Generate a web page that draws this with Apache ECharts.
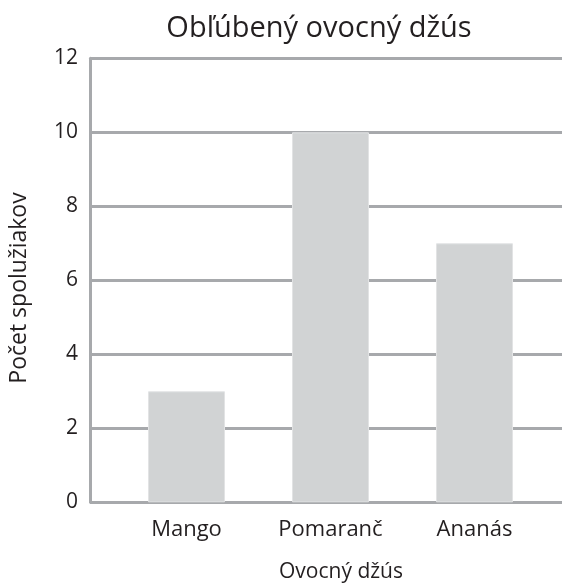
<!DOCTYPE html>
<html>
<head>
<meta charset="utf-8">
<script src="https://cdn.jsdelivr.net/npm/echarts@6/dist/echarts.min.js"></script>
<style>
  html, body { margin: 0; padding: 0; background: #fff; }
  #chart { width: 564px; height: 588px; }
</style>
</head>
<body>
<div id="chart"></div>
<script>
// Obľúbený ovocný džús — počet spolužiakov podľa druhu džúsu
const categories = ['Mango', 'Pomaranč', 'Ananás'];
const counts = [3, 10, 7];
const yTicks = { min: 0, max: 12, step: 2 };

const FONT = '"Open Sans", "Noto Sans", sans-serif';
const TEXT = '#231f20';
const GRIDLINE = '#a7a9ac';
const BAR = '#d1d3d4';

const chart = echarts.init(document.getElementById('chart'), null, { renderer: 'canvas' });

chart.setOption({
  animation: false,
  backgroundColor: '#ffffff',
  graphic: [
    {
      type: 'text', x: 319, y: 29,
      style: {
        text: 'Obľúbený ovocný džús', font: '29px ' + FONT, fill: TEXT,
        align: 'center', verticalAlign: 'middle'
      }
    },
    {
      type: 'text', x: 341, y: 572,
      style: {
        text: 'Ovocný džús', font: '21px ' + FONT, fill: TEXT,
        align: 'center', verticalAlign: 'middle'
      }
    },
    {
      type: 'text', x: 19, y: 288, rotation: Math.PI / 2,
      style: {
        text: 'Počet spolužiakov', font: '23px ' + FONT, fill: TEXT,
        align: 'center', verticalAlign: 'middle'
      }
    }
  ],
  grid: [
    // frame with the value scale and the horizontal lines
    { left: 90, right: 2, top: 58.3, bottom: 85.7, outerBoundsMode: 'none' },
    // inner band where the categories sit
    { left: 114.5, width: 432, top: 58.3, bottom: 85.7, outerBoundsMode: 'none' }
  ],
  xAxis: [
    { type: 'value', gridIndex: 0, show: false, min: 0, max: 1 },
    {
      type: 'category', gridIndex: 1, data: categories,
      axisLine: { show: false }, axisTick: { show: false },
      axisLabel: { fontFamily: FONT, fontSize: 22, color: TEXT, margin: 16 }
    }
  ],
  yAxis: [
    {
      type: 'value', gridIndex: 0,
      min: yTicks.min, max: yTicks.max, interval: yTicks.step,
      axisLine: { show: true, lineStyle: { color: GRIDLINE, width: 3 } },
      axisTick: { show: false },
      splitLine: { show: true, lineStyle: { color: GRIDLINE, width: 3 } },
      axisLabel: { fontFamily: FONT, fontSize: 21, color: TEXT, margin: 12 }
    },
    {
      type: 'value', gridIndex: 1, show: false,
      min: yTicks.min, max: yTicks.max, interval: yTicks.step
    }
  ],
  series: [{
    type: 'bar', xAxisIndex: 1, yAxisIndex: 1,
    data: counts, barWidth: 77,
    itemStyle: { color: BAR, borderColor: '#e2e3e4', borderWidth: 1 }
  }]
});
</script>
</body>
</html>
